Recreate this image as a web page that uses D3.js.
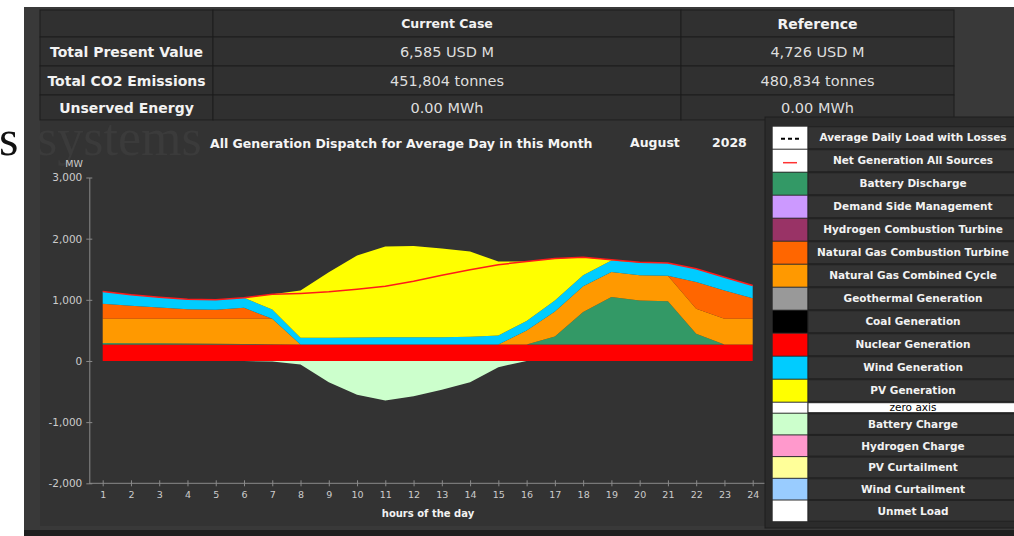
<!DOCTYPE html>
<html>
<head>
<meta charset="utf-8">
<script src="https://cdn.jsdelivr.net/npm/d3@7"></script>
<style>
body { margin: 0; background: #fff; }
svg { display: block; font-family: "DejaVu Sans", Verdana, sans-serif; }
</style>
</head>
<body>
<svg id="chart" width="1014" height="536"></svg>
<script>
// ---- data ----
var hours = [1,2,3,4,5,6,7,8,9,10,11,12,13,14,15,16,17,18,19,20,21,22,23,24];

var nuclear          = [270,270,270,270,270,270,270,270,270,270,270,270,270,270,270,270,270,270,270,270,270,270,270,270];
var batteryDischarge = [25,20,18,15,12,8,4,0,0,0,0,0,0,0,0,0,130,530,775,720,705,175,0,0];
var gasCombinedCycle = [395,400,402,405,408,412,416,0,0,0,0,0,0,0,0,230,410,420,408,413,420,410,420,420];
var gasCombustionTurbine = [245,212,184,157,146,179,0,0,0,0,0,0,0,0,0,0,0,0,0,0,0,435,463,337];
var windGen          = [201,179,169,163,164,164,151,109,109,112,116,116,120,125,147,153,180,180,191,208,206,218,217,208];
var pvGen            = [0,0,0,0,0,0,251,773,1072,1342,1485,1496,1450,1394,1209,972,686,294,10,0,0,0,0,0];
var batteryCharge    = [0,0,0,0,0,0,-10,-57,-346,-552,-645,-575,-470,-346,-101,0,0,0,0,0,0,0,0,0];
var netGeneration    = [1136,1081,1043,1010,1000,1033,1090,1105,1130,1174,1222,1304,1400,1490,1575,1625,1676,1694,1654,1615,1601,1508,1370,1235];

var yTicks = [-2000,-1000,0,1000,2000,3000];

var tableRows     = ["Total Present Value", "Total CO2 Emissions", "Unserved Energy"];
var currentCase   = ["6,585 USD M", "451,804 tonnes", "0.00 MWh"];
var referenceCase = ["4,726 USD M", "480,834 tonnes", "0.00 MWh"];

var legendLabels = ["Average Daily Load with Losses", "Net Generation All Sources", "Battery Discharge",
  "Demand Side Management", "Hydrogen Combustion Turbine", "Natural Gas Combustion Turbine",
  "Natural Gas Combined Cycle", "Geothermal Generation", "Coal Generation", "Nuclear Generation",
  "Wind Generation", "PV Generation", "zero axis", "Battery Charge", "Hydrogen Charge",
  "PV Curtailment", "Wind Curtailment", "Unmet Load"];
var legendColors = ["#ffffff", "#ffffff", "#339966", "#cc99ff", "#993366", "#ff6600", "#ff9900",
  "#999999", "#000000", "#ff0000", "#00ccff", "#ffff00", "#ffffff", "#ccffcc", "#ff99cc",
  "#ffff99", "#99ccff", "#ffffff"];

var stackKeys = ["nuclear", "discharge", "ngcc", "ngct", "wind", "pv"];
var stackColors = {nuclear: "#ff0000", discharge: "#339966", ngcc: "#ff9900", ngct: "#ff6600", wind: "#00ccff", pv: "#ffff00"};

// ---- page ----
var svg = d3.select("#chart");

svg.append("rect").attr("x", 24).attr("y", 7).attr("width", 990).attr("height", 523).attr("fill", "#393939");
svg.append("rect").attr("x", 24).attr("y", 530).attr("width", 990).attr("height", 6).attr("fill", "#1f1f1f");

// summary table
var colX = [40, 213, 681, 954];
var rowY = [10, 37, 66, 95, 120];
var tableData = [["", "Current Case", "Reference"]];
for (var i = 0; i < tableRows.length; i++) {
  tableData.push([tableRows[i], currentCase[i], referenceCase[i]]);
}
tableData.forEach(function(row, ri) {
  row.forEach(function(cell, ci) {
    svg.append("rect")
      .attr("x", colX[ci]).attr("y", rowY[ri])
      .attr("width", colX[ci + 1] - colX[ci]).attr("height", rowY[ri + 1] - rowY[ri])
      .attr("fill", "#303030").attr("stroke", "#1c1c1c");
    var t = svg.append("text")
      .attr("x", (colX[ci] + colX[ci + 1]) / 2)
      .attr("y", (rowY[ri] + rowY[ri + 1]) / 2)
      .attr("dy", "0.36em")
      .attr("text-anchor", "middle")
      .text(cell);
    if (ri == 0) {
      t.attr("font-weight", "bold").attr("fill", "#f2f2f2").attr("font-size", ci == 1 ? "12.5px" : "14px");
    } else if (ci == 0) {
      t.attr("font-weight", "bold").attr("fill", "#f2f2f2").attr("font-size", "14px");
    } else {
      t.attr("fill", "#dedede").attr("font-size", "14.5px");
    }
  });
});

// chart panel
svg.append("rect").attr("x", 40).attr("y", 121).attr("width", 726).attr("height", 405).attr("fill", "#333333");

// background word bits
svg.append("text").attr("x", -1).attr("y", 155)
  .attr("font-family", "Liberation Serif, serif").attr("font-size", "50px").attr("fill", "#111").text("s");
svg.append("text").attr("x", 37).attr("y", 155)
  .attr("font-family", "Liberation Serif, serif").attr("font-size", "52px").attr("fill", "#3b3b3b").text("systems");

svg.append("text").attr("x", 210).attr("y", 143).attr("dy", "0.36em")
  .attr("font-weight", "bold").attr("font-size", "12.5px").attr("fill", "#f5f5f5")
  .text("All Generation Dispatch for Average Day in this Month");
svg.append("text").attr("x", 630).attr("y", 142).attr("dy", "0.36em")
  .attr("font-weight", "bold").attr("font-size", "12.5px").attr("fill", "#f5f5f5").text("August");
svg.append("text").attr("x", 712).attr("y", 142).attr("dy", "0.36em")
  .attr("font-weight", "bold").attr("font-size", "12.5px").attr("fill", "#f5f5f5").text("2028");

svg.append("text").attr("x", 74).attr("y", 164).attr("dy", "0.36em").attr("text-anchor", "middle")
  .attr("font-size", "9.5px").attr("fill", "#cccccc").text("MW");

// scales
var x = d3.scaleLinear().domain([1, 24]).range([102.7, 752.7]);
var y = d3.scaleLinear().domain([-2000, 3000]).range([483.3, 177.5]);

var rows = hours.map(function(h, i) {
  return {hour: h, nuclear: nuclear[i], discharge: batteryDischarge[i], ngcc: gasCombinedCycle[i],
          ngct: gasCombustionTurbine[i], wind: windGen[i], pv: pvGen[i], charge: batteryCharge[i]};
});

var series = d3.stack().keys(stackKeys)(rows);

var area = d3.area()
  .x(function(d) { return x(d.data.hour); })
  .y0(function(d) { return y(d[0]); })
  .y1(function(d) { return y(d[1]); });

svg.append("g").selectAll("path")
  .data(series)
  .enter()
  .append("path")
  .attr("d", area)
  .attr("fill", function(d) { return stackColors[d.key]; });

var chargeArea = d3.area()
  .x(function(d) { return x(d.hour); })
  .y0(y(0))
  .y1(function(d) { return y(d.charge); });

svg.append("path").datum(rows).attr("d", chargeArea).attr("fill", "#ccffcc");

var netLine = d3.line()
  .x(function(d, i) { return x(hours[i]); })
  .y(function(d) { return y(d); });

svg.append("path").datum(netGeneration).attr("d", netLine)
  .attr("fill", "none").attr("stroke", "#ff1a1a").attr("stroke-width", 1.5);

// axes
var fmt = d3.format(",");
var yAxis = svg.append("g")
  .attr("transform", "translate(89.3,0)")
  .call(d3.axisLeft(y).tickValues(yTicks).tickSizeInner(3).tickSizeOuter(0).tickPadding(4)
    .tickFormat(function(d) { return fmt(d).replace("\u2212", "-"); }));
yAxis.select(".domain").attr("stroke", "#8a8a8a");
yAxis.selectAll(".tick line").attr("x1", -3).attr("x2", 3).attr("stroke", "#8a8a8a");
yAxis.selectAll("text").attr("fill", "#cccccc").style("font-size", "10.5px")
  .style("font-family", "DejaVu Sans, sans-serif");

var xAxis = svg.append("g")
  .attr("transform", "translate(0,483.3)")
  .call(d3.axisBottom(x).tickValues(hours).tickSizeInner(3).tickSizeOuter(0).tickPadding(5));
xAxis.select(".domain").remove();
xAxis.append("line").attr("x1", 89.3).attr("x2", 766).attr("stroke", "#8a8a8a");
xAxis.selectAll(".tick line").attr("y1", -3).attr("y2", 3).attr("stroke", "#8a8a8a");
xAxis.selectAll("text").attr("fill", "#cccccc").style("font-size", "9.5px")
  .style("font-family", "DejaVu Sans, sans-serif");

svg.append("text").attr("x", 428).attr("y", 513).attr("dy", "0.36em").attr("text-anchor", "middle")
  .attr("font-weight", "bold").attr("font-size", "10px").attr("fill", "#f2f2f2").text("hours of the day");

// legend
svg.append("rect").attr("x", 765).attr("y", 117).attr("width", 260).attr("height", 411)
  .attr("fill", "#2b2b2b").attr("stroke", "#1e1e1e");

var ly = 126.7;
legendLabels.forEach(function(label, i) {
  var rh = i < 12 ? 23 : (i == 12 ? 11 : 21.7);
  var zero = label == "zero axis";
  svg.append("rect").attr("x", 772.7).attr("y", ly).attr("width", 35).attr("height", rh - 1)
    .attr("fill", legendColors[i]);
  svg.append("rect").attr("x", 808).attr("y", ly).attr("width", 215).attr("height", rh - 1)
    .attr("fill", zero ? "#ffffff" : "#333333").attr("stroke", "#222222");
  svg.append("text").attr("x", 913).attr("y", ly + (rh - 1) / 2).attr("dy", "0.36em")
    .attr("text-anchor", "middle")
    .attr("font-weight", zero ? "normal" : "bold")
    .attr("font-size", "10.5px")
    .attr("fill", zero ? "#000" : "#f2f2f2")
    .text(label);
  if (i == 0) {
    svg.append("line").attr("x1", 781).attr("x2", 800).attr("y1", ly + 12).attr("y2", ly + 12)
      .attr("stroke", "#000").attr("stroke-width", 2).attr("stroke-dasharray", "4,3");
  }
  if (i == 1) {
    svg.append("line").attr("x1", 783).attr("x2", 797).attr("y1", ly + 13).attr("y2", ly + 13)
      .attr("stroke", "#ff3333").attr("stroke-width", 1.5);
  }
  ly += rh;
});
</script>
</body>
</html>
